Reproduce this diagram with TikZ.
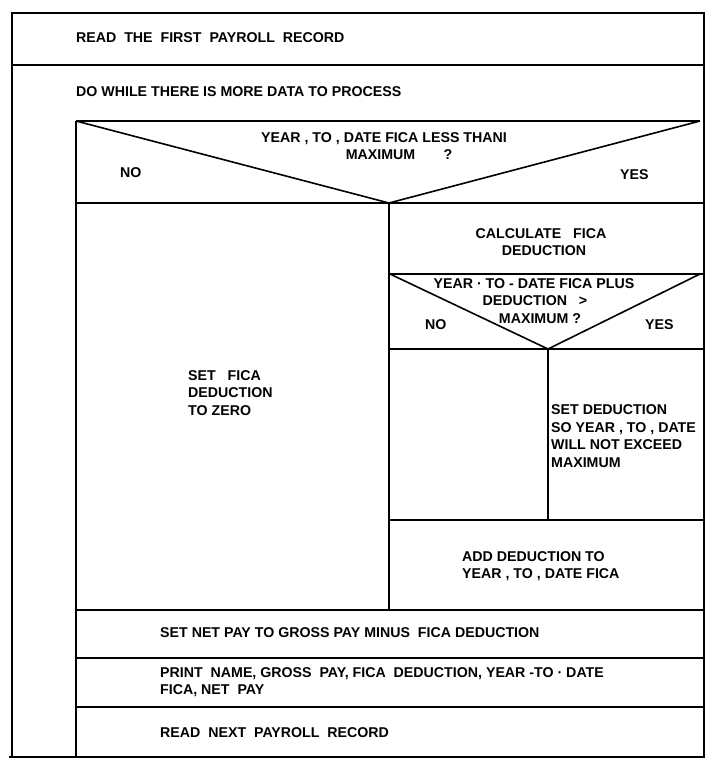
\documentclass[tikz,border=0pt]{standalone}
\usepackage{fontspec}
\setmainfont{Liberation Sans}
\begin{document}
\begin{tikzpicture}[x=1pt,y=-1pt,
  frame/.style={line width=1.6pt},
  txt/.style={font=\bfseries\fontsize{14.2}{17.5}\selectfont,inner sep=0pt,align=left,anchor=west},
  ctxt/.style={font=\bfseries\fontsize{14.2}{17.5}\selectfont,inner sep=0pt,align=center}
]
\useasboundingbox (0,0) rectangle (727,771);
% outer frame
\draw[frame] (12,13) rectangle (704,757);
\draw[frame] (9,757) -- (12,757);
\draw[frame] (12,65) -- (704,65);
% loop body
\draw[frame] (76,121) -- (76,757);
\draw[frame] (76,121) -- (700,121);
\draw[frame] (76,121) -- (389,203) -- (700,121);
\draw[frame] (76,203) -- (704,203);
\draw[frame] (389,203) -- (389,610);
% yes branch
\draw[frame] (389,274) -- (704,274);
\draw[frame] (390,274) -- (548,349) -- (700,274);
\draw[frame] (389,349) -- (704,349);
\draw[frame] (548,349) -- (548,520);
\draw[frame] (389,520) -- (704,520);
% rest of loop
\draw[frame] (76,610) -- (704,610);
\draw[frame] (76,658) -- (704,658);
\draw[frame] (76,707) -- (704,707);

\node[txt] (first) at (76,38) {READ\ \ THE\ \ FIRST\ \ PAYROLL\ \ RECORD};
\node[txt] (dowhile) at (76,92) {DO WHILE THERE IS MORE DATA TO PROCESS};
\node[ctxt] (cond1) at (384,146) {YEAR\ , TO\ , DATE FICA LESS THANI\\\hspace*{30pt}MAXIMUM\qquad ?};
\node[txt] (no1) at (120,173) {NO};
\node[txt] (yes1) at (620,175) {YES};
\node[ctxt] (calc) at (541,242) {CALCULATE\ \ \ FICA\\\hspace*{6pt}DEDUCTION};
\node[ctxt] (cond2) at (534,301) {YEAR · TO - DATE FICA PLUS\\\hspace*{2pt}DEDUCTION\ \ \ >\\\hspace*{12pt}MAXIMUM ?};
\node[txt] (no2) at (425,325) {NO};
\node[txt] (yes2) at (645,325) {YES};
\node[txt] (zero) at (188,393) {SET\ \ \ FICA\\DEDUCTION\\TO ZERO};
\node[txt] (limit) at (551,436) {SET DEDUCTION\\SO YEAR , TO , DATE\\WILL NOT EXCEED\\MAXIMUM};
\node[txt] (add) at (462,566) {ADD DEDUCTION\ TO\\YEAR , TO , DATE\ FICA};
\node[txt] (netpay) at (160,633) {SET NET PAY TO GROSS PAY MINUS\ \ FICA DEDUCTION};
\node[txt] (print) at (160,682) {PRINT\ \ NAME,\ GROSS\ \ PAY,\ FICA\ \ DEDUCTION,\ YEAR -TO · DATE\\FICA,\ NET\ \ PAY};
\node[txt] (next) at (160,733) {READ\ \ NEXT\ \ PAYROLL\ \ RECORD};
\end{tikzpicture}
\end{document}
